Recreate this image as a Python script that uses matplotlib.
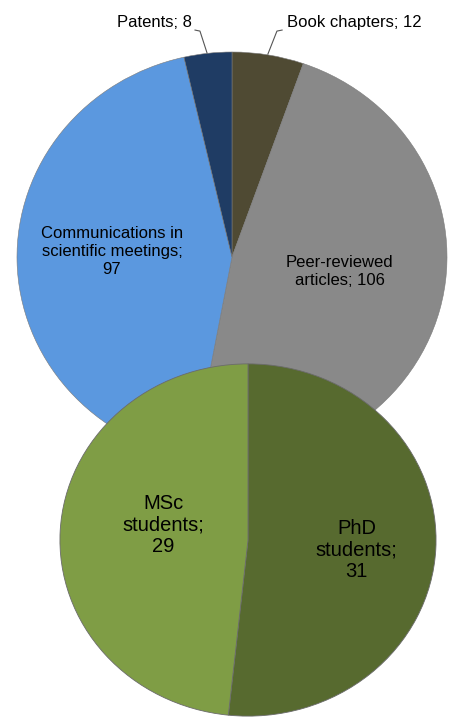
import matplotlib
matplotlib.use('Agg')
import matplotlib.pyplot as plt

plt.rcParams['font.family'] = ['Liberation Sans', 'DejaVu Sans']

# publications (clockwise from 12 o'clock)
pub_names = ['Book chapters', 'Peer-reviewed\narticles', 'Communications in\nscientific meetings', 'Patents']
pub_seps = ['; ', '; ', ';\n', '; ']
pub_values = [12, 106, 97, 8]
pub_colors = ['#4f4a33', '#898989', '#5b98df', '#1f3c64']

# students
stu_names = ['PhD\nstudents', 'MSc\nstudents']
stu_values = [31, 29]
stu_colors = ['#576a2f', '#7f9d45']

W, H = 454, 718
fig = plt.figure(figsize=(W / 100, H / 100), dpi=100)


def box(cx, cy, rx, ry):
    # pixel ellipse -> figure fraction axes box
    return [(cx - rx) / W, (H - cy - ry) / H, 2 * rx / W, 2 * ry / H]


# top pie
ax1 = fig.add_axes(box(232, 257, 215, 205))
ax1.pie(pub_values, colors=pub_colors, startangle=90, counterclock=False,
        wedgeprops=dict(linewidth=0.4, edgecolor='#7a7a7a'))
ax1.set_aspect('auto')
ax1.set_xlim(-1, 1)
ax1.set_ylim(-1, 1)
ax1.axis('off')

pub_labels = [n + s + str(v) for n, s, v in zip(pub_names, pub_seps, pub_values)]
fs_top = 12
ax1.text(0.567, 1.146, pub_labels[0], ha='center', va='center', fontsize=fs_top)
ax1.text(0.502, -0.073, pub_labels[1], ha='center', va='center', fontsize=fs_top, linespacing=1.25)
ax1.text(-0.558, 0.029, pub_labels[2], ha='center', va='center', fontsize=fs_top, linespacing=1.25)
ax1.text(-0.363, 1.146, pub_labels[3], ha='center', va='center', fontsize=fs_top)
# leader lines
ax1.plot([0.233, 0.209, 0.167], [1.107, 1.102, 0.990], color='#555555', lw=0.8, clip_on=False)
ax1.plot([-0.172, -0.149, -0.116], [1.107, 1.102, 0.995], color='#555555', lw=0.8, clip_on=False)

# bottom pie
ax2 = fig.add_axes(box(248, 540, 189, 177))
ax2.pie(stu_values, colors=stu_colors, startangle=90, counterclock=False,
        wedgeprops=dict(linewidth=0.6, edgecolor='#6b6b6b'))
ax2.set_aspect('auto')
ax2.set_xlim(-1.005, 1.005)
ax2.set_ylim(-1.005, 1.005)
ax2.axis('off')

stu_labels = [n + ';\n' + str(v) for n, v in zip(stu_names, stu_values)]
ax2.text(0.577, -0.056, stu_labels[0], ha='center', va='center', fontsize=14.5, linespacing=1.15)
ax2.text(-0.45, 0.085, stu_labels[1], ha='center', va='center', fontsize=14.5, linespacing=1.15)

fig.savefig('out.png', dpi=100)
